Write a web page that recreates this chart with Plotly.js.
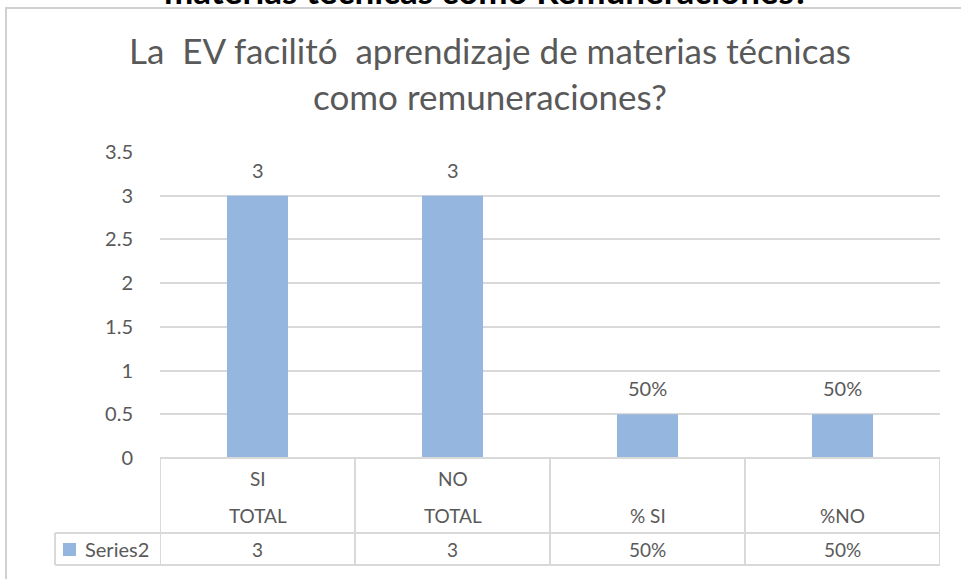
<!DOCTYPE html>
<html>
<head>
<meta charset="utf-8">
<script src="https://cdn.plot.ly/plotly-3.0.1.min.js"></script>
<style>html,body{margin:0;padding:0;background:#fff;}#chart{width:961px;height:579px;}</style>
</head>
<body>
<div id="chart"></div>
<script>
// ---- data ----
var categoriesTop = ["SI", "NO", "", ""];
var categoriesBottom = ["TOTAL", "TOTAL", "% SI", "%NO"];
var seriesName = "Series2";
var seriesValues = [3, 3, 0.5, 0.5];
var valueLabels = ["3", "3", "50%", "50%"];
var yTicks = [0, 0.5, 1, 1.5, 2, 2.5, 3, 3.5];
var yTickText = ["0", "0.5", "1", "1.5", "2", "2.5", "3", "3.5"];
var titleText = "La  EV facilitó  aprendizaje de materias técnicas<br>como remuneraciones?";
var cutText = "materias técnicas como Remuneraciones?";

// ---- layout helpers ----
var W = 961, H = 579;
var L = 160, R = 940, T = 152, B = 458;
var pw = R - L, ph = B - T;
function px(x) { return (x - L) / pw; }
function py(y) { return (B - y) / ph; }

var barColor = "#95B6DE";
var lineColor = "#D9D9D9";
var textColor = "#595959";
var font = "Lato, 'Open Sans', sans-serif";

var cats = seriesValues.map(function (v, i) { return i; });

var shapes = [];
var annotations = [];

// outer chart border
shapes.push({type: "rect", xref: "paper", yref: "paper",
  x0: px(6), x1: px(975), y0: py(600), y1: py(8),
  line: {color: "#D0D0D0", width: 2}, fillcolor: "rgba(0,0,0,0)", layer: "below"});

// table lines
var yRowSplit = 533, yBottom = 565;
shapes.push({type: "line", xref: "paper", yref: "paper", x0: px(L), x1: px(R), y0: py(B), y1: py(B), line: {color: lineColor, width: 2}});
shapes.push({type: "line", xref: "paper", yref: "paper", x0: px(55), x1: px(R), y0: py(yRowSplit), y1: py(yRowSplit), line: {color: lineColor, width: 2}});
shapes.push({type: "line", xref: "paper", yref: "paper", x0: px(55), x1: px(R), y0: py(yBottom), y1: py(yBottom), line: {color: lineColor, width: 2}});
for (var i = 0; i <= cats.length; i++) {
  shapes.push({type: "line", xref: "x", yref: "paper", x0: i - 0.5, x1: i - 0.5, y0: py(B), y1: py(yBottom), line: {color: lineColor, width: 2}});
}
shapes.push({type: "line", xref: "paper", yref: "paper", x0: px(55), x1: px(55), y0: py(yRowSplit), y1: py(yBottom), line: {color: lineColor, width: 2}});
// legend key
shapes.push({type: "rect", xref: "paper", yref: "paper", x0: px(63), x1: px(76), y0: py(556), y1: py(543), line: {width: 0}, fillcolor: barColor});

// table texts
cats.forEach(function (c, i) {
  annotations.push({x: c, xref: "x", y: py(478), yref: "paper", text: categoriesTop[i], showarrow: false, font: {family: font, size: 19, color: textColor}, xanchor: "center", yanchor: "middle"});
  annotations.push({x: c, xref: "x", y: py(515), yref: "paper", text: categoriesBottom[i], showarrow: false, font: {family: font, size: 19, color: textColor}, xanchor: "center", yanchor: "middle"});
  annotations.push({x: c, xref: "x", y: py(549), yref: "paper", text: valueLabels[i], showarrow: false, font: {family: font, size: 19, color: textColor}, xanchor: "center", yanchor: "middle"});
  annotations.push({x: c, xref: "x", y: seriesValues[i], yref: "y", text: valueLabels[i], showarrow: false, font: {family: font, size: 20, color: textColor}, xanchor: "center", yanchor: "middle", yshift: 26});
});
annotations.push({x: px(83), xref: "paper", y: py(549), yref: "paper", text: seriesName, showarrow: false, font: {family: font, size: 20, color: textColor}, xanchor: "left", yanchor: "middle"});

// cut-off text at the very top (only its lower edge is visible, as in the reference)
annotations.push({x: px(486), xref: "paper", y: py(-10), yref: "paper", text: "<b>" + cutText + "</b>", showarrow: false, font: {family: font, size: 35, color: "#000"}, xanchor: "center", yanchor: "middle"});

var data = [{
  type: "bar",
  x: cats,
  y: seriesValues,
  name: seriesName,
  marker: {color: barColor},
  hoverinfo: "none"
}];

var layout = {
  width: W, height: H,
  margin: {l: L, r: W - R, t: T, b: H - B, pad: 0},
  paper_bgcolor: "#fff", plot_bgcolor: "#fff",
  showlegend: false,
  bargap: 0.687,
  title: {text: titleText, font: {family: font, size: 35, color: textColor}, x: 490 / W, xanchor: "center", xref: "container", y: 1 - 64 / H, yanchor: "top", yref: "container"},
  xaxis: {range: [-0.5, 3.5], showticklabels: false, showgrid: false, zeroline: false, showline: false, ticks: "", fixedrange: true},
  yaxis: {range: [0, 3.5], tickvals: yTicks, ticktext: yTickText, showgrid: true, gridcolor: lineColor, gridwidth: 2, zeroline: false, showline: false,
    ticks: "outside", ticklen: 22, tickcolor: "rgba(0,0,0,0)", tickfont: {family: font, size: 20, color: textColor}, fixedrange: true},
  shapes: shapes,
  annotations: annotations
};

Plotly.newPlot("chart", data, layout, {staticPlot: true, displayModeBar: false});
</script>
</body>
</html>
